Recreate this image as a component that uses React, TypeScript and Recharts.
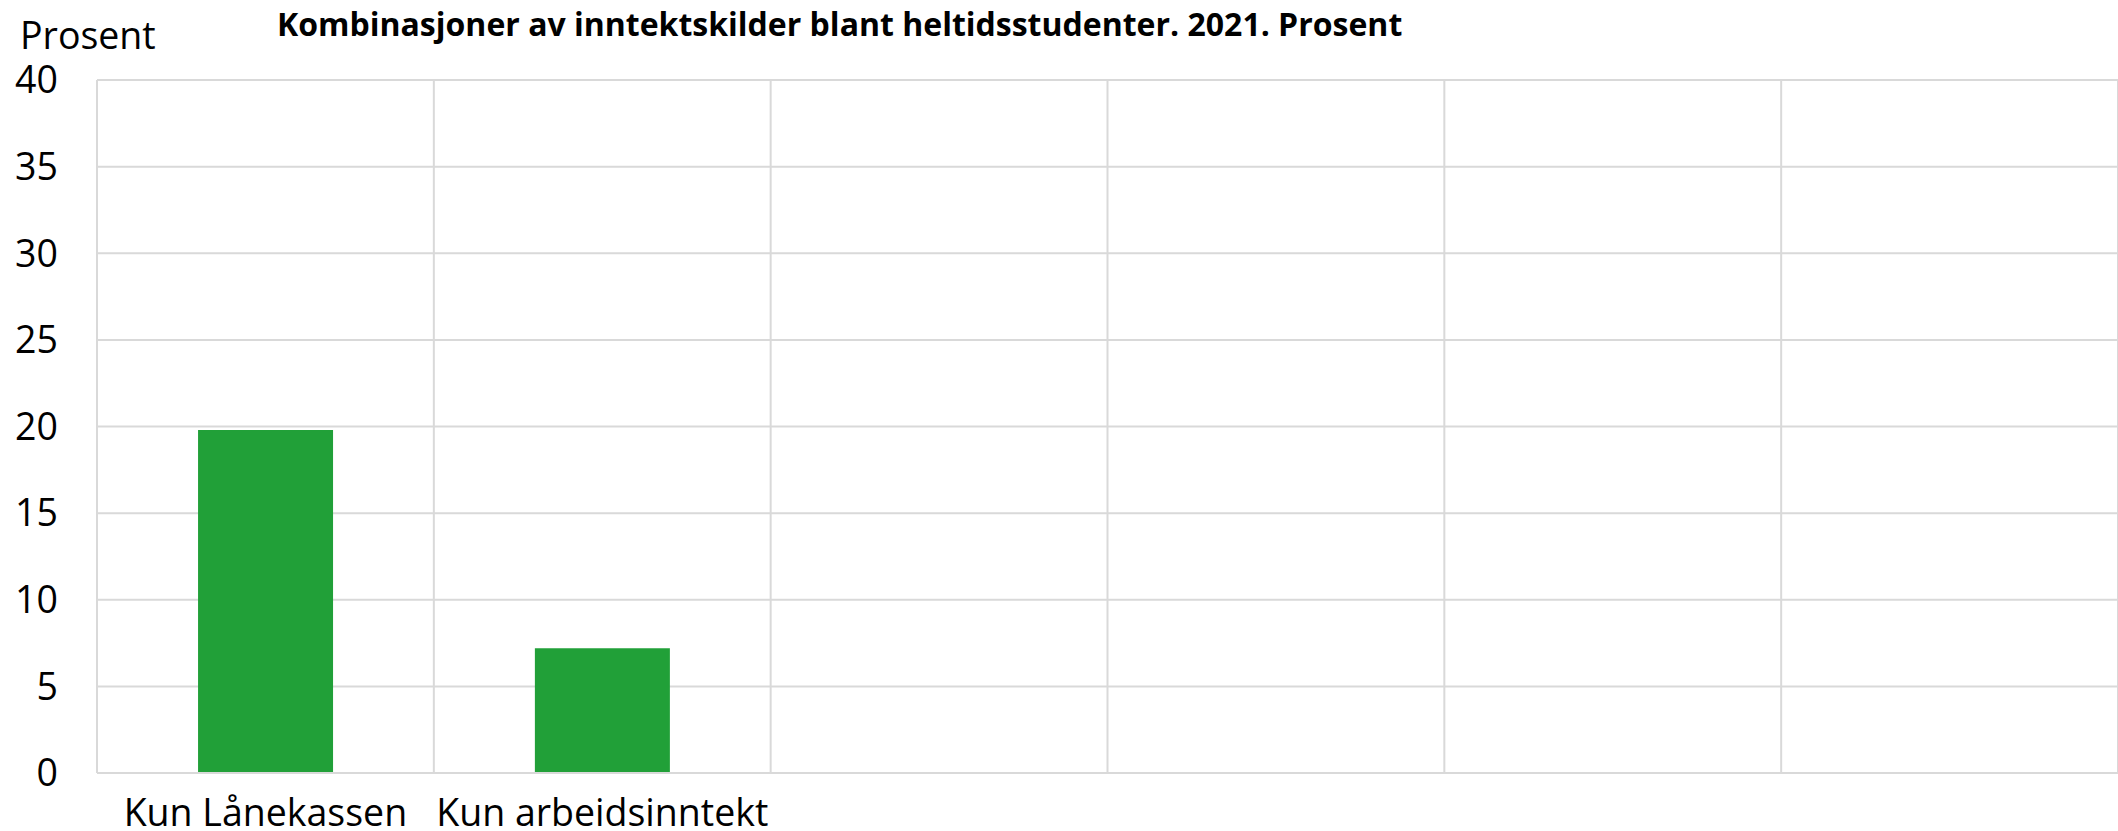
import React from 'react';
import { BarChart, Bar, XAxis, YAxis, CartesianGrid } from 'recharts';

const categories = [
  'Kun Lånekassen',
  'Kun arbeidsinntekt',
  '',
  '',
  '',
  '',
];
const shareValues: (number | null)[] = [19.8, 7.2, null, null, null, null];
const yTicks = [0, 5, 10, 15, 20, 25, 30, 35, 40];
const bandEdges = [0, 1, 2, 3, 4, 5, 6];

const chartData = categories.map((name, i) => ({
  name,
  slot: i + 0.5,
  share: shareValues[i],
}));

const FONT = '"Open Sans", sans-serif';

export default function App() {
  return (
    <div style={{ position: 'absolute', left: 0, top: 0, width: 2118, height: 831, background: '#fff', fontFamily: FONT }}>
      <div style={{ position: 'absolute', left: 20, top: 12, fontSize: 37.5, lineHeight: '46px', color: '#000' }}>
        Prosent
      </div>
      <div style={{ position: 'absolute', left: 277, top: 4, fontSize: 32, lineHeight: '40px', fontWeight: 700, color: '#000' }}>
        Kombinasjoner av inntektskilder blant heltidsstudenter. 2021. Prosent
      </div>
      <BarChart
        width={2118}
        height={831}
        data={chartData}
        margin={{ top: 80, right: 0, left: 0, bottom: 0 }}
        barCategoryGap="30%"
      >
        <CartesianGrid stroke="#d9d9d9" strokeWidth={2} xAxisId="grid" />
        <XAxis
          dataKey="name"
          height={58}
          tickLine={false}
          axisLine={{ stroke: '#d9d9d9', strokeWidth: 2 }}
          tick={{ fill: '#000', fontSize: 37.5, fontFamily: FONT }}
          tickMargin={20}
          interval={0}
        />
        <XAxis
          xAxisId="grid"
          dataKey="slot"
          type="number"
          domain={[0, 6]}
          ticks={bandEdges}
          hide
        />
        <YAxis
          domain={[0, 40]}
          ticks={yTicks}
          width={97}
          tickLine={false}
          axisLine={false}
          tickSize={0}
          tickMargin={39}
          tick={{ fill: '#000', fontSize: 37.5, fontFamily: FONT }}
          interval={0}
        />
        <Bar dataKey="share" fill="#21a038" isAnimationActive={false} />
      </BarChart>
    </div>
  );
}
